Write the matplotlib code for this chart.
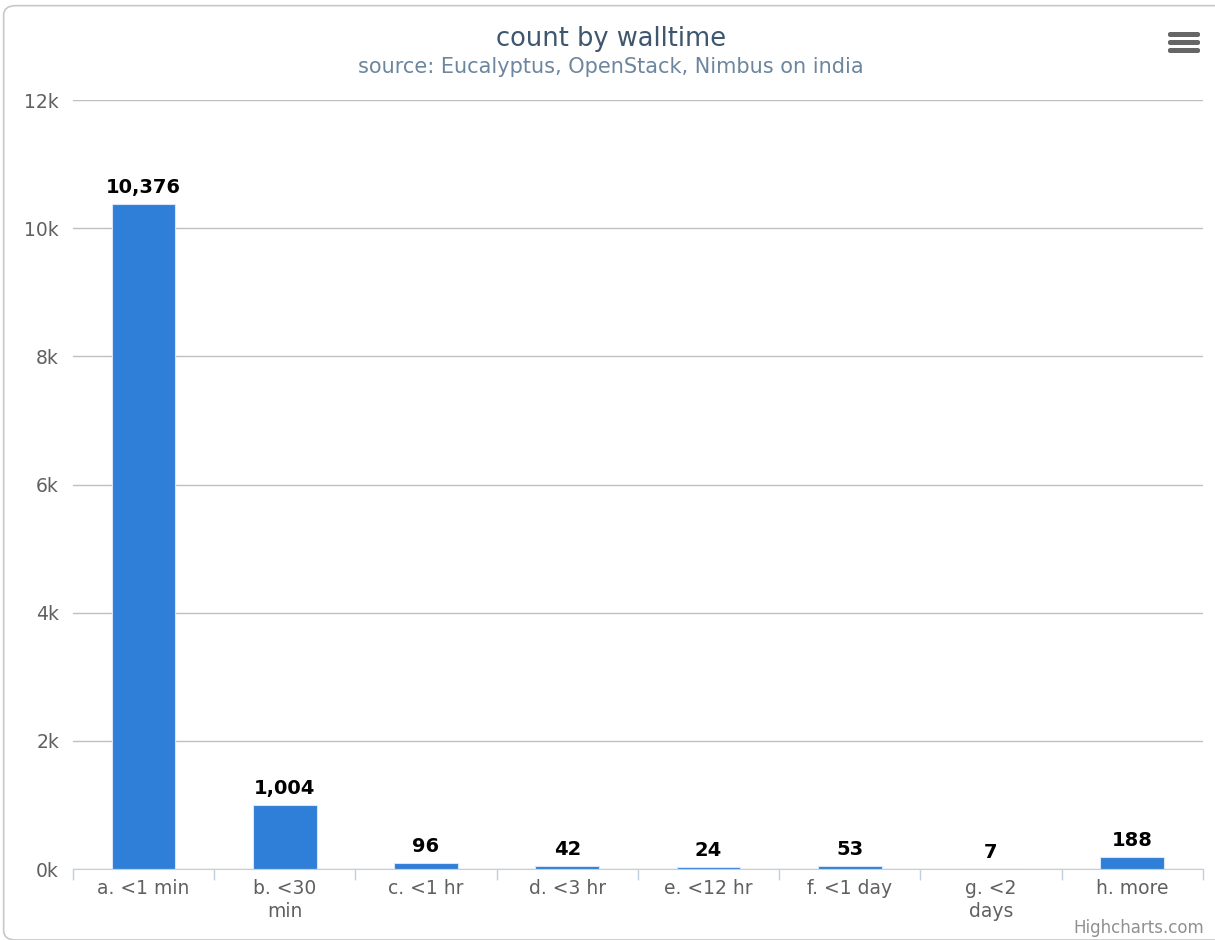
import matplotlib.pyplot as plt
from matplotlib.patches import FancyBboxPatch
from matplotlib.ticker import FuncFormatter, MultipleLocator

plt.rcParams['font.family'] = ['DejaVu Sans']

categories = ['a. <1 min', 'b. <30\nmin', 'c. <1 hr', 'd. <3 hr',
              'e. <12 hr', 'f. <1 day', 'g. <2\ndays', 'h. more']
counts = [10376, 1004, 96, 42, 24, 53, 7, 188]

fig = plt.figure(figsize=(12.15, 9.4), dpi=100)

# rounded chart border (right and bottom edges run off the canvas)
fig.patches.append(FancyBboxPatch((0.003, 0.0), 1.05, 0.994, boxstyle='round,pad=0,rounding_size=0.01',
                                  transform=fig.transFigure, fill=False, edgecolor='#c8c8c8', linewidth=1.2))

ax = fig.add_axes([0.060, 0.0755, 0.930, 0.818])
x = list(range(len(categories)))
ax.bar(x, counts, width=0.45, color='#2f7ed8', edgecolor='#d6e6f8', linewidth=0.8, zorder=3)

for xi, v in zip(x, counts):
    ax.text(xi, v + 110, f'{v:,}', ha='center', va='bottom', fontsize=14,
            fontweight='bold', color='#000000', zorder=4)

ax.set_xlim(-0.5, len(categories) - 0.5)
ax.set_ylim(0, 12000)
ax.yaxis.set_major_locator(MultipleLocator(2000))
ax.yaxis.set_major_formatter(FuncFormatter(lambda v, p: f'{int(v / 1000)}k'))
ax.grid(axis='y', color='#c0c0c0', linewidth=1, zorder=0)

for s in ['top', 'right', 'left']:
    ax.spines[s].set_visible(False)
ax.spines['bottom'].set_color('#c0d0e0')
ax.spines['bottom'].set_zorder(5)

ax.set_xticks(x)
ax.set_xticklabels(categories, fontsize=13.5, color='#606060', linespacing=1.25)
ax.set_xticks([i - 0.5 for i in range(len(categories) + 1)], minor=True)
ax.tick_params(axis='x', which='major', length=0, pad=7)
ax.tick_params(axis='x', which='minor', length=8, color='#c0d0e0', width=1)
ax.tick_params(axis='y', length=0, labelsize=13.5, labelcolor='#606060', pad=10)

fig.text(0.503, 0.959, 'count by walltime', ha='center', va='center', fontsize=18.5, color='#3e576f')
fig.text(0.503, 0.929, 'source: Eucalyptus, OpenStack, Nimbus on india', ha='center', va='center',
         fontsize=15, color='#6d869f')
fig.text(0.991, 0.003, 'Highcharts.com', ha='right', va='bottom', fontsize=12, color='#909090')

# export menu icon
for top in (32, 40, 48):
    fig.patches.append(FancyBboxPatch((1168 / 1215, 1 - (top + 5) / 940), 32 / 1215, 5 / 940,
                                      boxstyle='round,pad=0,rounding_size=0.002',
                                      transform=fig.transFigure, facecolor='#666666', edgecolor='none'))

fig.savefig('out.png', dpi=100)
